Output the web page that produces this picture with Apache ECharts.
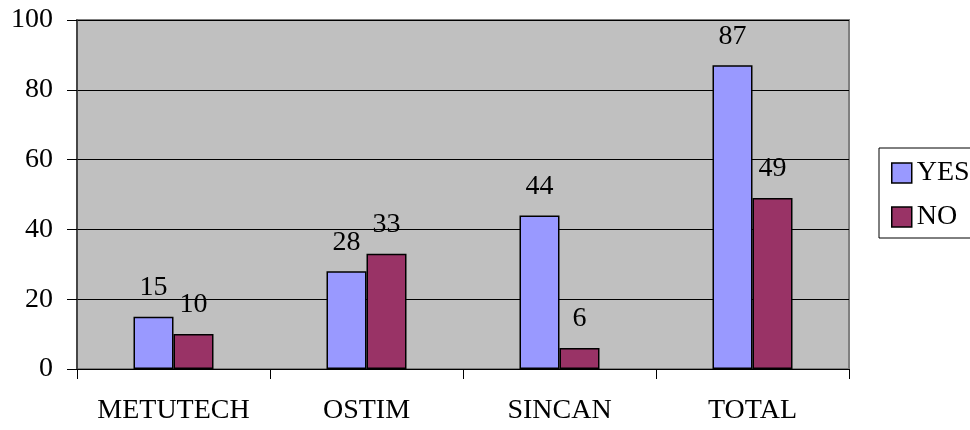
<!DOCTYPE html>
<html>
<head>
<meta charset="utf-8">
<script src="https://cdn.jsdelivr.net/npm/echarts@6/dist/echarts.min.js"></script>
<style>
html,body{margin:0;padding:0;background:#fff;}
#c{width:970px;height:430px;}
</style>
</head>
<body>
<div id="c"></div>
<script>
const categories = ['METUTECH', 'OSTIM', 'SINCAN', 'TOTAL'];
const yesValues = [15, 28, 44, 87];
const noValues = [10, 33, 6, 49];
const seriesNames = ['YES', 'NO'];

const FONT = "'Liberation Serif', 'Times New Roman', serif";
const chart = echarts.init(document.getElementById('c'), null, {renderer: 'canvas'});

const labelCfg = {
  show: true,
  position: 'top',
  distance: 15,
  color: '#000',
  fontFamily: FONT,
  fontSize: 28
};

chart.setOption({
  animation: false,
  backgroundColor: '#fff',
  textStyle: {fontFamily: FONT},
  grid: {
    left: 77, right: 121, top: 20, bottom: 61,
    show: true,
    backgroundColor: '#C0C0C0',
    borderColor: '#808080',
    borderWidth: 2
  },
  legend: {
    orient: 'vertical',
    left: 879,
    top: 148,
    padding: [10, 30, 6, 12],
    itemGap: 14,
    itemWidth: 20,
    itemHeight: 20,
    icon: 'rect',
    borderColor: '#000',
    borderWidth: 1,
    itemStyle: {borderColor: '#000', borderWidth: 1.5},
    textStyle: {fontFamily: FONT, fontSize: 28, color: '#000', lineHeight: 30},
    data: seriesNames
  },
  xAxis: {
    type: 'category',
    data: categories,
    axisLine: {lineStyle: {color: '#000', width: 1}},
    axisTick: {show: true, interval: 0, length: 10, lineStyle: {color: '#000'}},
    axisLabel: {interval: 0, hideOverlap: false, color: '#000', fontFamily: FONT, fontSize: 28, margin: 28}
  },
  yAxis: {
    type: 'value',
    min: 0, max: 100, interval: 20,
    axisLine: {show: true, lineStyle: {color: '#333', width: 1.5}},
    axisTick: {show: true, length: 10, lineStyle: {color: '#000'}},
    axisLabel: {color: '#000', fontFamily: FONT, fontSize: 28, margin: 24},
    splitLine: {show: true, lineStyle: {color: '#000', width: 1}}
  },
  series: [
    {
      name: seriesNames[0], type: 'bar', data: yesValues,
      barWidth: 40, barGap: '0%',
      itemStyle: {color: '#9999FF', borderColor: '#000', borderWidth: 1.5},
      label: labelCfg
    },
    {
      name: seriesNames[1], type: 'bar', data: noValues,
      barWidth: 40,
      itemStyle: {color: '#993366', borderColor: '#000', borderWidth: 1.5},
      label: labelCfg
    }
  ]
});
</script>
</body>
</html>
